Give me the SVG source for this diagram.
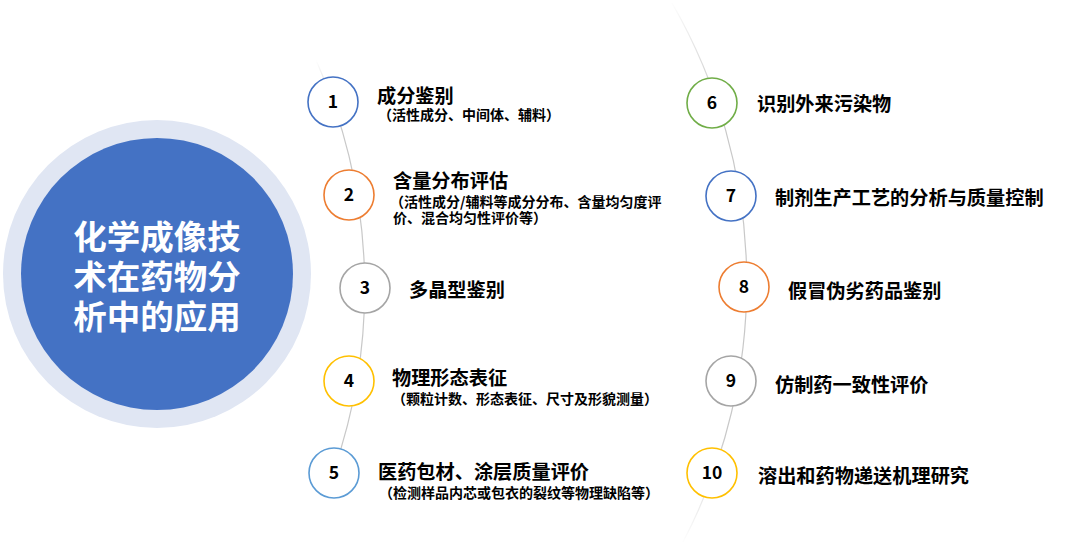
<svg xmlns="http://www.w3.org/2000/svg" width="1080" height="560" viewBox="0 0 1080 560">
<style>
text{font-family:"Noto Sans CJK SC","Noto Sans",sans-serif;font-weight:bold;fill:#000}
.num{font-size:17.5px;text-anchor:middle}
.t{font-size:19.2px}
.s{font-size:14px}
.title{font-size:33.5px;fill:#fff;text-anchor:middle}
.n{fill:#fff;stroke-width:1.6}
</style>
<defs>
<linearGradient id="gl" gradientUnits="userSpaceOnUse" x1="0" y1="60" x2="0" y2="470">
<stop offset="0" stop-color="#c8c8c8" stop-opacity="0"/>
<stop offset="0.12" stop-color="#c8c8c8" stop-opacity="1"/>
<stop offset="1" stop-color="#c8c8c8" stop-opacity="1"/>
</linearGradient>
<linearGradient id="gr" gradientUnits="userSpaceOnUse" x1="0" y1="0" x2="0" y2="545">
<stop offset="0" stop-color="#c8c8c8" stop-opacity="0"/>
<stop offset="0.18" stop-color="#c8c8c8" stop-opacity="1"/>
<stop offset="0.8" stop-color="#c8c8c8" stop-opacity="1"/>
<stop offset="1" stop-color="#c8c8c8" stop-opacity="0"/>
</linearGradient>
</defs>
<rect width="1080" height="560" fill="#fff"/>
<g id="center">
<circle cx="157" cy="274" r="154" fill="#e0e6f3"/>
<circle cx="157" cy="274" r="136" fill="#4472c4"/>
<text class="title" x="157" y="249">化学成像技</text>
<text class="title" x="157" y="289">术在药物分</text>
<text class="title" x="157" y="329">析中的应用</text>
</g>
<g id="connectors" fill="none" stroke-width="1.2">
<path d="M 316 60 A 556.6 556.6 0 0 1 334 470" stroke="url(#gl)"/>
<path d="M 672 3 A 560 560 0 0 1 683 542" stroke="url(#gr)"/>
</g>
<g id="n1"><circle class="n" cx="333" cy="102" r="25" stroke="#4472c4"/><text class="num" x="333" y="108">1</text>
<text class="t" x="377" y="103">成分鉴别</text><text class="s" x="378" y="120">（活性成分、中间体、辅料）</text></g>
<g id="n2"><circle class="n" cx="349" cy="195" r="25" stroke="#ed7d31"/><text class="num" x="349" y="201">2</text>
<text class="t" x="393" y="188">含量分布评估</text><text class="s" x="390" y="207">（活性成分/辅料等成分分布、含量均匀度评</text><text class="s" x="393" y="223">价、混合均匀性评价等）</text></g>
<g id="n3"><circle class="n" cx="365" cy="288" r="25" stroke="#a5a5a5"/><text class="num" x="365" y="294">3</text>
<text class="t" x="409" y="297">多晶型鉴别</text></g>
<g id="n4"><circle class="n" cx="349" cy="381" r="25" stroke="#ffc000"/><text class="num" x="349" y="387">4</text>
<text class="t" x="392" y="385">物理形态表征</text><text class="s" x="392" y="404">（颗粒计数、形态表征、尺寸及形貌测量）</text></g>
<g id="n5"><circle class="n" cx="334" cy="473" r="25" stroke="#5b9bd5"/><text class="num" x="334" y="479">5</text>
<text class="t" x="378" y="479">医药包材、涂层质量评价</text><text class="s" x="379" y="498">（检测样品内芯或包衣的裂纹等物理缺陷等）</text></g>
<g id="n6"><circle class="n" cx="712" cy="103" r="25" stroke="#70ad47"/><text class="num" x="712" y="109">6</text>
<text class="t" x="757" y="111">识别外来污染物</text></g>
<g id="n7"><circle class="n" cx="731" cy="196" r="25" stroke="#4472c4"/><text class="num" x="731" y="202">7</text>
<text class="t" x="775" y="205">制剂生产工艺的分析与质量控制</text></g>
<g id="n8"><circle class="n" cx="744" cy="287" r="25" stroke="#ed7d31"/><text class="num" x="744" y="293">8</text>
<text class="t" x="788" y="298">假冒伪劣药品鉴别</text></g>
<g id="n9"><circle class="n" cx="731" cy="381" r="25" stroke="#a5a5a5"/><text class="num" x="731" y="387">9</text>
<text class="t" x="775" y="392">仿制药一致性评价</text></g>
<g id="n10"><circle class="n" cx="712" cy="473" r="25" stroke="#ffc000"/><text class="num" x="712" y="479">10</text>
<text class="t" x="758" y="483">溶出和药物递送机理研究</text></g>
</svg>
